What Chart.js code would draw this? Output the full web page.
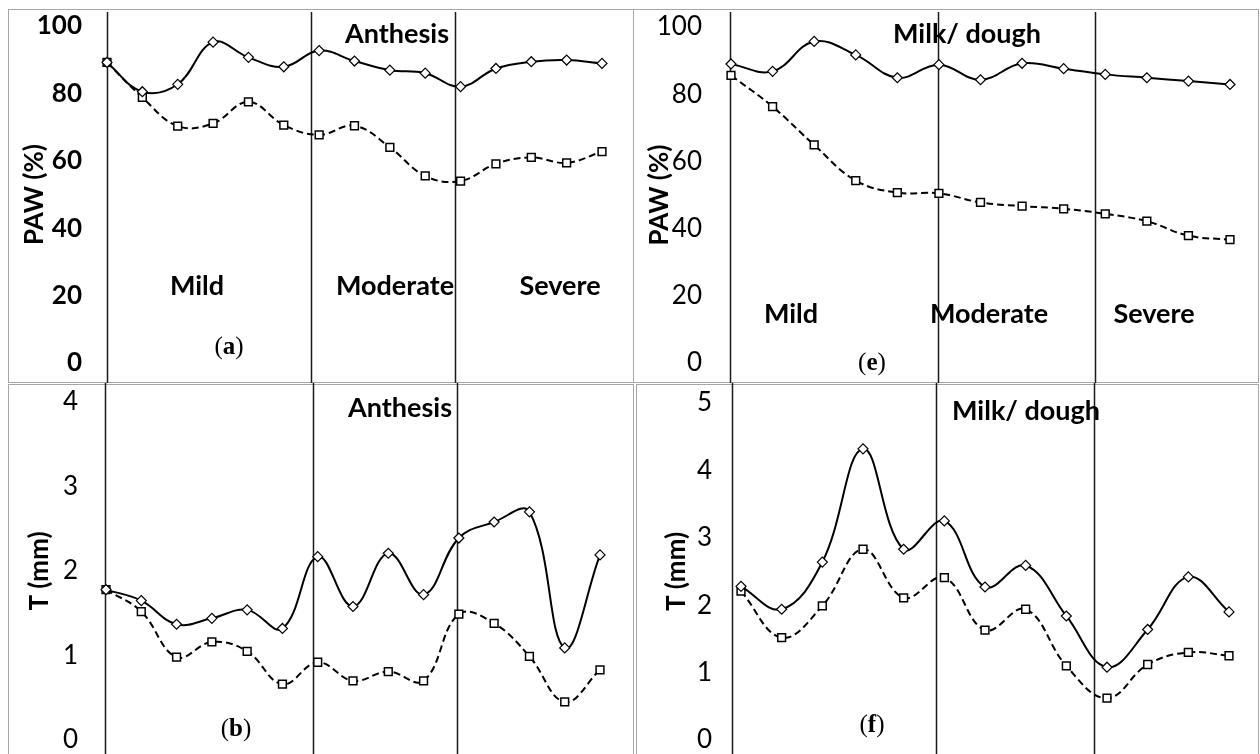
<!DOCTYPE html>
<html>
<head>
<meta charset="utf-8">
<script src="https://cdn.jsdelivr.net/npm/chart.js@4.4.0/dist/chart.umd.min.js"></script>
<style>
  body { margin: 0; background: #fff; width: 1260px; height: 754px; overflow: hidden; position: relative; }
  .box { position: absolute; border: 1px solid #a6a6a6; box-sizing: border-box; }
  canvas { position: absolute; }
  .lbl { position: absolute; font-family: Lato, sans-serif; font-weight: bold; font-size: 27px; line-height: 27px; transform: translateX(-50%); white-space: nowrap; color: #000; }
  .tag { position: absolute; font-family: 'Liberation Serif', serif; font-size: 25px; line-height: 25px; transform: translateX(-50%); white-space: nowrap; color: #000; }
</style>
</head>
<body>
<div class="box" style="left:8px;top:9px;width:626px;height:374px"></div>
<div class="box" style="left:633px;top:9px;width:626px;height:374px"></div>
<div class="box" style="left:8px;top:384px;width:626px;height:380px"></div>
<div class="box" style="left:636px;top:384px;width:623px;height:380px"></div>

<canvas id="pawAnthesis" width="633" height="383" style="left:0;top:0"></canvas>
<canvas id="pawMilk" width="627" height="383" style="left:633px;top:0"></canvas>
<canvas id="tAnthesis" width="633" height="371" style="left:0;top:383px"></canvas>
<canvas id="tMilk" width="627" height="371" style="left:633px;top:383px"></canvas>

<div class="lbl" style="left:397px;top:19px">Anthesis</div>
<div class="lbl" style="left:197px;top:271px">Mild</div>
<div class="lbl" style="left:395px;top:271px">Moderate</div>
<div class="lbl" style="left:560px;top:271px">Severe</div>
<div class="tag" style="left:229px;top:333px">(<b>a</b>)</div>

<div class="lbl" style="left:967px;top:19px">Milk/ dough</div>
<div class="lbl" style="left:791px;top:299px">Mild</div>
<div class="lbl" style="left:989px;top:299px">Moderate</div>
<div class="lbl" style="left:1154px;top:299px">Severe</div>
<div class="tag" style="left:872px;top:349px">(<b>e</b>)</div>

<div class="lbl" style="left:400px;top:393px">Anthesis</div>
<div class="tag" style="left:236px;top:715px">(<b>b</b>)</div>

<div class="lbl" style="left:1026px;top:396px">Milk/ dough</div>
<div class="tag" style="left:872px;top:711px">(<b>f</b>)</div>

<script>
// observation order along each stress period
const obsAnthesis = ['1', '2', '3', '4', '5', '6', '7', '8', '9', '10', '11', '12', '13', '14', '15']
const obsMilk = ['1', '2', '3', '4', '5', '6', '7', '8', '9', '10', '11', '12', '13']

// PAW (%)
const pawAnthesisSolid = [89.2, 80.5, 82.7, 95.2, 90.7, 87.9, 92.7, 89.6, 86.9, 86.0, 82.0, 87.4, 89.4, 89.9, 88.9]
const pawAnthesisDashed = [89.2, 78.8, 70.3, 71.1, 77.5, 70.6, 67.7, 70.4, 64.0, 55.5, 54.0, 59.1, 61.0, 59.4, 62.7]
const pawMilkSolid = [89.0, 86.8, 95.7, 91.7, 84.9, 88.8, 84.3, 89.2, 87.6, 85.9, 84.9, 83.9, 82.9]
const pawMilkDashed = [85.6, 76.3, 64.9, 54.3, 50.7, 50.5, 47.8, 46.7, 45.9, 44.4, 42.2, 37.9, 36.7]

// T (mm)
const tAnthesisSolid = [1.78, 1.65, 1.37, 1.44, 1.54, 1.32, 2.17, 1.58, 2.21, 1.72, 2.39, 2.58, 2.70, 1.09, 2.19]
const tAnthesisDashed = [1.78, 1.52, 0.98, 1.16, 1.05, 0.66, 0.92, 0.70, 0.81, 0.70, 1.49, 1.38, 0.99, 0.45, 0.83]
const tMilkSolid = [2.28, 1.94, 2.64, 4.32, 2.83, 3.25, 2.27, 2.59, 1.84, 1.08, 1.64, 2.42, 1.90]
const tMilkDashed = [2.21, 1.52, 1.99, 2.83, 2.11, 2.41, 1.63, 1.94, 1.10, 0.62, 1.12, 1.30, 1.25]

// y tick labels
const pawTicks = [0, 20, 40, 60, 80, 100]
const tAnthesisTicks = [0, 1, 2, 3, 4]
const tMilkTicks = [0, 1, 2, 3, 4, 5]

// stress-stage boundaries, in observation-index units
const stagesPawAnthesis = [0, 5.78, 9.83]
const stagesTAnthesis = [-0.03, 5.87, 9.95]
const stagesPawMilk = [-0.02, 4.98, 8.75]
const stagesTMilk = [-0.22, 4.79, 8.68]

const stageLines = {
  id: 'stageLines',
  beforeDatasetsDraw(chart, args, opts) {
    const { ctx } = chart
    const x = chart.scales.x
    ctx.save()
    ctx.strokeStyle = '#1a1a1a'
    ctx.lineWidth = 1.5
    opts.bounds.forEach(b => {
      const px = Math.round(x.getPixelForValue(b)) + 0.5
      ctx.beginPath()
      ctx.moveTo(px, opts.top)
      ctx.lineTo(px, chart.height)
      ctx.stroke()
    })
    ctx.restore()
  }
}

function makePanel(id, labels, solid, dashed, ticks, o) {
  new Chart(document.getElementById(id), {
    type: 'line',
    data: {
      labels,
      datasets: [
        { data: solid, borderColor: '#000', borderWidth: 2, tension: 0.4, pointStyle: 'rectRot', pointRadius: 5,
          pointBackgroundColor: '#fff', pointBorderColor: '#000', pointBorderWidth: 1.2 },
        { data: dashed, borderColor: '#000', borderWidth: 2, borderDash: [7, 4], tension: 0.4, pointStyle: 'rect', pointRadius: 5.5,
          pointBackgroundColor: '#fff', pointBorderColor: '#000', pointBorderWidth: 1.5 }
      ]
    },
    options: {
      responsive: false,
      animation: false,
      layout: { padding: o.pad },
      plugins: {
        legend: { display: false },
        tooltip: { enabled: false },
        stageLines: { bounds: o.bounds, top: o.lineTop }
      },
      scales: {
        x: { display: false },
        y: {
          min: ticks[0],
          max: ticks[ticks.length - 1],
          afterBuildTicks: s => { s.ticks = ticks.map(v => ({ value: v })) },
          afterFit: s => { s.width = o.axisW; s.paddingTop = 0; s.paddingBottom = 0 },
          grid: { display: false, drawTicks: false },
          border: { display: false },
          ticks: { padding: o.tickPad, color: '#000', font: { family: 'Lato', size: 26, weight: o.tickBold ? 'bold' : 'normal', lineHeight: 1 } },
          title: { display: true, text: o.title, color: '#000', font: { family: 'Lato', size: 26, weight: 'bold', lineHeight: 1.2 }, padding: { top: o.titlePad, bottom: 0 } }
        }
      }
    },
    plugins: [stageLines]
  })
}

makePanel('pawAnthesis', obsAnthesis, pawAnthesisSolid, pawAnthesisDashed, pawTicks, {
  pad: { left: 0, top: 26, right: 31, bottom: 20 }, axisW: 107, tickPad: 25, tickBold: true,
  title: 'PAW (%)', titlePad: 19, bounds: stagesPawAnthesis, lineTop: 12
})
makePanel('pawMilk', obsMilk, pawMilkSolid, pawMilkDashed, pawTicks, {
  pad: { left: 0, top: 27, right: 30, bottom: 20 }, axisW: 98, tickPad: 29, tickBold: false,
  title: 'PAW (%)', titlePad: 11, bounds: stagesPawMilk, lineTop: 12
})
makePanel('tAnthesis', obsAnthesis, tAnthesisSolid, tAnthesisDashed, tAnthesisTicks, {
  pad: { left: 0, top: 19, right: 33, bottom: 14 }, axisW: 106, tickPad: 28, tickBold: false,
  title: 'T (mm)', titlePad: 24, bounds: stagesTAnthesis, lineTop: 0
})
makePanel('tMilk', obsMilk, tMilkSolid, tMilkDashed, tMilkTicks, {
  pad: { left: 0, top: 20, right: 31, bottom: 14 }, axisW: 108, tickPad: 29, tickBold: false,
  title: 'T (mm)', titlePad: 28, bounds: stagesTMilk, lineTop: 0
})
</script>
</body>
</html>
